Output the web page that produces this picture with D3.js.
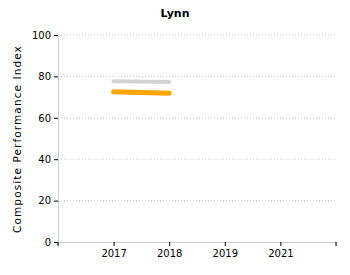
<!DOCTYPE html>
<html><head><meta charset="utf-8">
<script src="https://cdn.jsdelivr.net/npm/d3@7"></script>
<style>
body{margin:0;background:#fff;}
text{font-family:"DejaVu Sans",Verdana,sans-serif;}
</style></head>
<body><svg id="c" width="350" height="275"></svg>
<script>
const title = "Lynn";
const yLabel = "Composite Performance Index";
const years = ["2017", "2018", "2019", "2021"];
const seriesGray = [77.6, 77.3];
const seriesOrange = [72.6, 71.9];
const yTicks = [0, 20, 40, 60, 80, 100];

(function () {
const svg = d3.select("#c");
const mLeft = 58, mRight = 336, mTop = 35, mBottom = 242;
const x = d3.scaleLinear().domain([0, years.length + 1]).range([mLeft, mRight]);
const y = d3.scaleLinear().domain([0, 100]).range([mBottom, mTop]);

// grid
svg.append("g").selectAll("line").data(yTicks.filter(d => d > 0)).join("line")
  .attr("x1", mLeft).attr("x2", mRight).attr("y1", d => y(d)).attr("y2", d => y(d))
  .attr("stroke", "#c8c8c8").attr("stroke-dasharray", "1,2");

const yAxis = svg.append("g").attr("transform", `translate(${mLeft},0)`)
  .call(d3.axisLeft(y).tickValues(yTicks).tickSize(4).tickSizeOuter(0).tickPadding(3));
yAxis.select(".domain").attr("stroke", "#ccc");
yAxis.selectAll(".tick line").attr("stroke", "#000");
yAxis.selectAll("text").attr("font-size", 10).attr("fill", "#000");

const xAxis = svg.append("g").attr("transform", `translate(0,${mBottom})`)
  .call(d3.axisBottom(x).tickValues(years.map((d, i) => i + 1)).tickFormat((d) => years[d - 1]).tickSize(4).tickSizeOuter(4).tickPadding(4));
xAxis.select(".domain").attr("stroke", "#ccc");
xAxis.selectAll(".tick line").attr("stroke", "#000");
xAxis.selectAll("text").attr("font-size", 10).attr("fill", "#000");
[0, years.length + 1].forEach(v => {
  svg.append("line").attr("x1", x(v)).attr("x2", x(v)).attr("y1", mBottom).attr("y2", mBottom + 4).attr("stroke", "#000");
});

const line = d3.line().x((d, i) => x(i + 1)).y(d => y(d));
svg.append("path").datum(seriesGray).attr("d", line).attr("fill", "none")
  .attr("stroke", "#d3d3d3").attr("stroke-width", 4).attr("stroke-linecap", "round");
svg.append("path").datum(seriesOrange).attr("d", line).attr("fill", "none")
  .attr("stroke", "#ffa500").attr("stroke-width", 5).attr("stroke-linecap", "round");

svg.append("text").attr("x", 175).attr("y", 17).attr("text-anchor", "middle")
  .attr("font-size", 11).attr("font-weight", "bold").attr("fill", "#000").text(title);

svg.append("text").attr("transform", `translate(21,139) rotate(-90)`)
  .attr("text-anchor", "middle").attr("font-size", 10.5).attr("letter-spacing", 1.1).attr("fill", "#000").text(yLabel);
})();
</script></body></html>
